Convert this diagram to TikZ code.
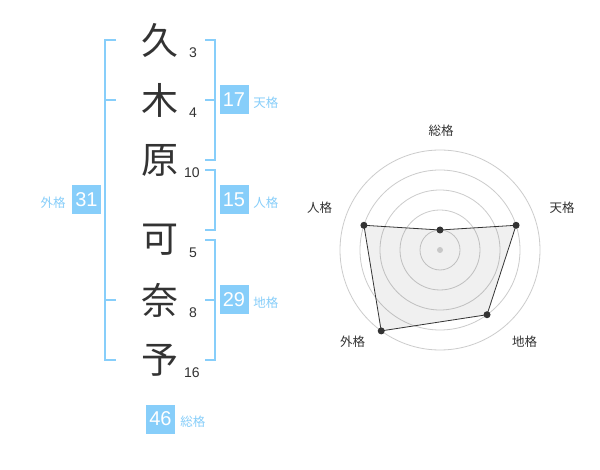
\documentclass[tikz,border=0pt]{standalone}
\usepackage{fontspec}
\setmainfont{Liberation Sans}
\newfontfamily\cjk{Noto Sans CJK JP}
\usetikzlibrary{positioning}
\definecolor{skyline}{RGB}{135,206,250}
\definecolor{ink}{RGB}{51,51,51}
\definecolor{ringgray}{RGB}{204,204,204}
\definecolor{hubgray}{RGB}{200,200,200}

\begin{document}
\begin{tikzpicture}[
x=1pt,y=-1pt,
kanji/.style={
  text=ink,
  inner sep=0pt,
  font=\cjk\fontsize{37}{37}\selectfont
},
strokes/.style={
  text=ink,
  inner sep=0pt,
  font=\fontsize{14}{14}\selectfont
},
kaku/.style={
  fill=skyline,
  text=white,
  minimum size=29pt,
  inner sep=0pt,
  font=\fontsize{20}{20}\selectfont
},
kakuname/.style={
  text=skyline,
  inner sep=0pt,
  font=\cjk\fontsize{12.5}{12.5}\selectfont
},
brack/.style={
  draw=skyline,
  line width=2pt
},
ring/.style={
  draw=ringgray,
  line width=0.8pt
},
axislabel/.style={
  text=ink,
  inner sep=0pt,
  font=\cjk\fontsize{12.5}{12.5}\selectfont
}
]
\useasboundingbox[fill=white] (0,0) rectangle (600,470);

% name column
\node[kanji] (k1) at (160,40) {久};
\node[kanji] (k2) at (160,100) {木};
\node[kanji] (k3) at (160,160) {原};
\node[kanji] (k4) at (160,240) {可};
\node[kanji] (k5) at (160,300) {奈};
\node[kanji] (k6) at (160,360) {予};

\node[strokes] (s1) at (193,53) {3};
\node[strokes] (s2) at (193,113) {4};
\node[strokes] (s3) at (192,173) {10};
\node[strokes] (s4) at (193,253) {5};
\node[strokes] (s5) at (193,313) {8};
\node[strokes] (s6) at (192,373) {16};

% brackets
\draw[brack] (116,40) -- (105,40) -- (105,360) -- (116,360);
\draw[brack] (105,100) -- (116,100);
\draw[brack] (105,300) -- (116,300);
\draw[brack] (205,40) -- (215,40) -- (215,160) -- (205,160);
\draw[brack] (205,100) -- (215,100);
\draw[brack] (205,170) -- (215,170) -- (215,230) -- (205,230);
\draw[brack] (205,240) -- (215,240) -- (215,360) -- (205,360);
\draw[brack] (205,300) -- (215,300);

% scores
\node[kaku] (ten) at (234,100) {17};
\node[kakuname,right=4.5pt of ten,yshift=-3pt] (ten-name) {天格};
\node[kaku] (jin) at (234,200) {15};
\node[kakuname,right=4.5pt of jin,yshift=-3pt] (jin-name) {人格};
\node[kaku] (chi) at (234,300) {29};
\node[kakuname,right=4.5pt of chi,yshift=-3pt] (chi-name) {地格};
\node[kaku] (gai) at (86.5,200) {31};
\node[kakuname,left=6pt of gai,yshift=-3pt] (gai-name) {外格};
\node[kaku] (sou) at (160.5,419) {46};
\node[kakuname,right=5pt of sou,yshift=-3pt] (sou-name) {総格};

% radar
\begin{scope}[shift={(440,250)}]
\coordinate (r-sou) at (90:20pt);
\coordinate (r-ten) at (18:80pt);
\coordinate (r-chi) at (-54:80pt);
\coordinate (r-gai) at (-126:100pt);
\coordinate (r-jin) at (162:80pt);
\foreach \r in {20,40,60,80,100}
  \draw[ring] (0,0) circle[radius=\r pt];
\fill[black,fill opacity=0.06] (r-sou) -- (r-ten) -- (r-chi) -- (r-gai) -- (r-jin) -- cycle;
\draw[ink,line width=0.8pt] (r-sou) -- (r-ten) -- (r-chi) -- (r-gai) -- (r-jin) -- cycle;
\foreach \p in {r-sou,r-ten,r-chi,r-gai,r-jin}
  \fill[ink] (\p) circle[radius=3.5pt];
\fill[hubgray] (0,0) circle[radius=3pt];
\end{scope}

\node[axislabel] (a-sou) at (441,130.5) {総格};
\node[axislabel] (a-ten) at (562,208) {天格};
\node[axislabel] (a-chi) at (524.5,342) {地格};
\node[axislabel] (a-gai) at (352.5,342) {外格};
\node[axislabel] (a-jin) at (319.5,208) {人格};
\end{tikzpicture}
\end{document}
